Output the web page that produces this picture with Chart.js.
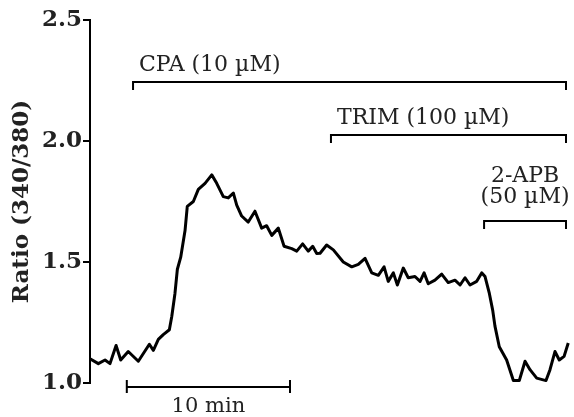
<!DOCTYPE html>
<html>
<head>
<meta charset="utf-8">
<script src="https://cdn.jsdelivr.net/npm/chart.js@4"></script>
<style>
  html, body { margin: 0; padding: 0; background: #fff; }
  #wrap { width: 574px; height: 417px; position: relative; }
</style>
</head>
<body>
<div id="wrap"><canvas id="traceChart"></canvas></div>
<script>
// --- данные трассы (время, мин / отношение 340/380) ---
const timeMin = [
  0.00, 0.52, 0.94, 1.25, 1.63, 1.92, 2.39, 3.02, 3.71, 3.96, 4.27, 4.58, 4.96,
  5.11, 5.31, 5.46, 5.67, 5.94, 6.08, 6.46, 6.77, 7.19, 7.61, 7.92, 8.33, 8.64,
  8.96, 9.17, 9.48, 9.89, 10.31, 10.73, 11.04, 11.36, 11.77, 12.13, 12.61, 12.92,
  13.29, 13.64, 13.92, 14.17, 14.38, 14.79, 15.21, 15.83, 16.36, 16.77, 17.19,
  17.61, 18.02, 18.38, 18.64, 18.96, 19.21, 19.58, 19.89, 20.31, 20.63, 20.88,
  21.14, 21.56, 21.98, 22.39, 22.81, 23.13, 23.44, 23.75, 24.17, 24.48, 24.69,
  24.96, 25.17, 25.31, 25.58, 26.04, 26.46, 26.83, 27.19, 27.50, 27.92, 28.50,
  28.75, 29.06, 29.33, 29.63, 29.89
];
const ratio = [
  1.100, 1.080, 1.095, 1.080, 1.155, 1.095, 1.130, 1.090, 1.160, 1.135, 1.180, 1.200, 1.220,
  1.275, 1.370, 1.470, 1.520, 1.630, 1.730, 1.750, 1.800, 1.825, 1.860, 1.825, 1.770, 1.765,
  1.785, 1.735, 1.690, 1.665, 1.710, 1.640, 1.650, 1.610, 1.640, 1.565, 1.555, 1.545,
  1.575, 1.545, 1.565, 1.535, 1.536, 1.570, 1.550, 1.500, 1.480, 1.490, 1.515,
  1.455, 1.445, 1.480, 1.420, 1.455, 1.405, 1.475, 1.435, 1.440, 1.420, 1.455,
  1.410, 1.425, 1.450, 1.415, 1.425, 1.405, 1.435, 1.405, 1.420, 1.455, 1.440,
  1.370, 1.300, 1.235, 1.150, 1.095, 1.010, 1.010, 1.090, 1.055, 1.020, 1.010,
  1.055, 1.130, 1.095, 1.110, 1.165
];
const yTicks = [1.0, 1.5, 2.0, 2.5];

// --- аппликации препаратов ---
const drugLabels = [['CPA (10 µM)'], ['TRIM (100 µM)'], ['2-APB', '(50 µM)']];
const drugStart = [2.69, 15.06, 24.63];
const drugEnd = [29.75, 29.75, 29.75];
const drugLevel = [2.244, 2.025, 1.669];

// --- масштабная линейка ---
const scaleBarStart = 2.3;
const scaleBarEnd = 12.5;
const scaleBarLabel = '10 min';

const serif = '"DejaVu Serif", "Liberation Serif", serif';

const annotations = {
  id: 'annotations',
  afterDraw(chart) {
    const { ctx, scales: { x, y } } = chart;
    ctx.save();
    ctx.strokeStyle = '#000';
    ctx.fillStyle = '#222';
    ctx.lineWidth = 2;
    ctx.font = '22px ' + serif;
    ctx.textBaseline = 'alphabetic';

    drugLabels.forEach((lines, i) => {
      const x0 = x.getPixelForValue(drugStart[i]);
      const x1 = x.getPixelForValue(drugEnd[i]);
      const yy = y.getPixelForValue(drugLevel[i]);
      ctx.beginPath();
      ctx.moveTo(x0, yy + 8);
      ctx.lineTo(x0, yy);
      ctx.lineTo(x1, yy);
      ctx.lineTo(x1, yy + 8);
      ctx.stroke();
      if (lines.length === 1) {
        ctx.textAlign = 'left';
        ctx.fillText(lines[0], x0 + 6, yy - 11);
      } else {
        ctx.textAlign = 'center';
        const cx = (x0 + x1) / 2;
        lines.forEach((t, k) => {
          ctx.fillText(t, cx, yy - 18 - (lines.length - 1 - k) * 21);
        });
      }
    });

    // линейка
    const b0 = x.getPixelForValue(scaleBarStart);
    const b1 = x.getPixelForValue(scaleBarEnd);
    const by = chart.chartArea.bottom + 4;
    ctx.beginPath();
    ctx.moveTo(b0, by);
    ctx.lineTo(b1, by);
    ctx.moveTo(b0, by - 7);
    ctx.lineTo(b0, by + 6);
    ctx.moveTo(b1, by - 7);
    ctx.lineTo(b1, by + 6);
    ctx.stroke();
    ctx.textAlign = 'center';
    ctx.font = '21px ' + serif;
    ctx.fillText(scaleBarLabel, (b0 + b1) / 2, by + 25);
    ctx.restore();
  }
};

new Chart(document.getElementById('traceChart'), {
  type: 'line',
  data: {
    datasets: [{
      data: timeMin.map((t, i) => ({ x: t, y: ratio[i] })),
      borderColor: '#000',
      borderWidth: 3,
      pointRadius: 0,
      tension: 0,
      borderJoinStyle: 'round',
      fill: false
    }]
  },
  options: {
    responsive: true,
    maintainAspectRatio: false,
    animation: false,
    layout: { padding: { top: 20, right: 4, bottom: 34, left: 0 } },
    plugins: { legend: { display: false }, tooltip: { enabled: false } },
    scales: {
      x: { type: 'linear', min: 0, max: 30, display: false },
      y: {
        min: 1.0,
        max: 2.5,
        afterBuildTicks: scale => { scale.ticks = yTicks.map(v => ({ value: v })); },
        afterFit: scale => { scale.width = 90; },
        ticks: {
          callback: v => Number(v).toFixed(1),
          color: '#222',
          padding: 1,
          font: { family: serif, size: 23, weight: 'bold' }
        },
        grid: { drawOnChartArea: false, drawTicks: true, tickLength: 7, color: '#000', lineWidth: 2 },
        border: { display: true, color: '#000', width: 2 },
        title: {
          display: true,
          text: 'Ratio (340/380)',
          color: '#222',
          padding: { top: 8, bottom: 0 },
          font: { family: serif, size: 23, weight: 'bold' }
        }
      }
    }
  },
  plugins: [annotations]
});
</script>
</body>
</html>
